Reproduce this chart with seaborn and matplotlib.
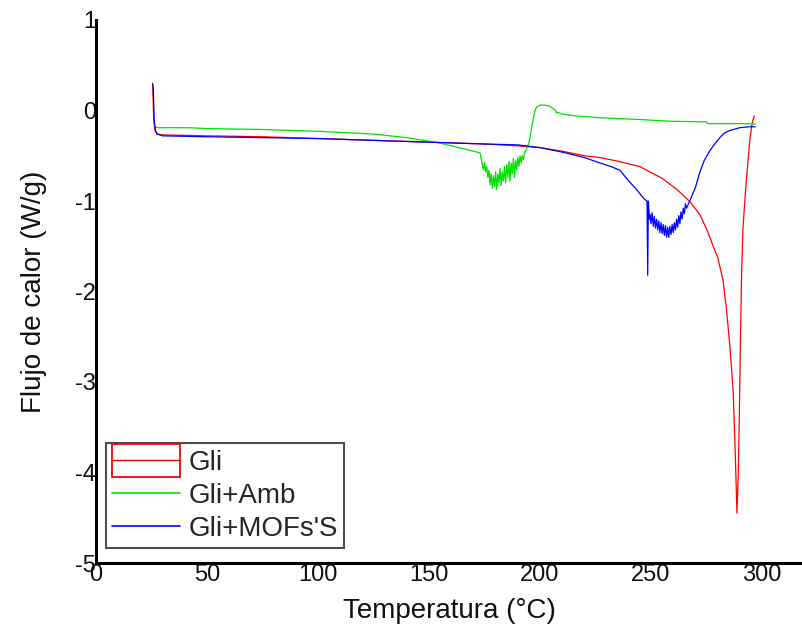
import matplotlib
matplotlib.use("Agg")
import matplotlib.pyplot as plt
import seaborn as sns
import pandas as pd
from matplotlib.patches import Rectangle
from matplotlib.lines import Line2D

# ---------------- data ----------------
gli_T = [25.5, 25.7, 26.0, 26.5, 27.5, 30, 50, 75, 100, 125, 150, 175, 190, 200,
         210, 220, 227, 235, 245, 255, 262, 267.6, 272, 275.2, 278, 280, 282.4,
         284, 285.5, 287, 287.7, 288.3, 288.7, 289.3, 289.7, 290.0, 290.3, 290.8,
         291.4, 292.6, 293.7, 294.6, 295.5, 296.0, 296.5]
gli_Q = [0.28, 0.15, -0.10, -0.22, -0.26, -0.27, -0.28, -0.29, -0.31, -0.33, -0.35,
         -0.37, -0.39, -0.41, -0.45, -0.50, -0.52, -0.56, -0.62, -0.75, -0.88, -1.01,
         -1.15, -1.32, -1.50, -1.62, -1.87, -2.20, -2.60, -3.10, -3.60, -4.10, -4.45,
         -4.00, -3.50, -3.00, -2.50, -1.80, -1.30, -0.88, -0.55, -0.30, -0.15, -0.10,
         -0.06]

amb_T = [26.6, 27.5, 30, 42, 50, 75, 100, 125, 140, 150, 155, 165, 170, 173,
         174.0, 174.5, 175.0, 175.5, 176.0, 176.5, 177.0, 177.5, 178.0, 178.5,
         179.0, 179.5, 180.0, 180.5, 181.0, 181.5, 182.0, 182.5, 183.0, 183.5,
         184.0, 184.5, 185.0, 185.5, 186.0, 186.5, 187.0, 187.5, 188.0, 188.5,
         189.0, 189.5, 190.0, 190.5, 191.0, 191.5, 192.0, 192.5, 193.0,
         194, 195, 195.5, 196.5, 197.5, 198.5, 200, 202, 204, 206, 207, 207.5,
         208, 210, 216, 227, 245, 260, 275, 275.5, 290, 297]
amb_Q = [-0.18, -0.19, -0.19, -0.19, -0.20, -0.21, -0.23, -0.26, -0.30, -0.34,
         -0.36, -0.42, -0.45, -0.47,
         -0.60, -0.66, -0.57, -0.68, -0.62, -0.74, -0.66, -0.82, -0.70, -0.86,
         -0.72, -0.84, -0.68, -0.87, -0.70, -0.80, -0.64, -0.83, -0.68, -0.78,
         -0.62, -0.80, -0.60, -0.74, -0.56, -0.78, -0.58, -0.70, -0.53, -0.74,
         -0.55, -0.66, -0.52, -0.62, -0.50, -0.58, -0.50, -0.54, -0.47,
         -0.42, -0.36, -0.30, -0.15, -0.02, 0.04, 0.06, 0.06, 0.05, 0.02, 0.00,
         -0.03, -0.02, -0.04, -0.06, -0.08, -0.10, -0.12, -0.125, -0.145, -0.145,
         -0.15]

mof_T = [25.5, 25.8, 26.2, 26.8, 27.5, 30, 50, 75, 100, 125, 150, 175, 190, 200,
         210, 220, 227, 232, 236, 240, 243, 245, 247, 248.2, 248.5, 248.8, 249.3,
         249.5, 250.0, 250.5, 251.0, 251.5, 252.0, 252.5, 253.0, 253.5, 254.0,
         254.5, 255.0, 255.5, 256.0, 256.5, 257.0, 257.5, 258.0, 258.5, 259.0,
         259.5, 260.0, 260.5, 261.0, 261.5, 262.0, 262.5, 263.0, 263.5, 264.0,
         264.5, 265.0, 265.5, 266.0,
         267.6, 270, 272, 274, 276.6, 279, 281, 283, 285.6, 290, 294, 297]
mof_Q = [0.30, 0.25, -0.10, -0.22, -0.26, -0.28, -0.29, -0.30, -0.31, -0.33, -0.35,
         -0.37, -0.38, -0.41, -0.46, -0.52, -0.58, -0.62, -0.66, -0.78, -0.86,
         -0.92, -0.98, -1.00, -1.82, -1.00, -1.20,
         -1.15, -1.25, -1.13, -1.28, -1.17, -1.30, -1.20, -1.32, -1.22, -1.35,
         -1.24, -1.36, -1.26, -1.38, -1.27, -1.40, -1.29, -1.40, -1.28, -1.37,
         -1.26, -1.35, -1.24, -1.32, -1.20, -1.29, -1.16, -1.25, -1.12, -1.20,
         -1.08, -1.14, -1.03, -1.08,
         -0.99, -0.85, -0.68, -0.55, -0.44, -0.36, -0.30, -0.25, -0.22, -0.19,
         -0.18, -0.18]

labels = ["Gli", "Gli+Amb", "Gli+MOFs'S"]
colors = ["#ff0000", "#00e000", "#0000ff"]
x_label = "Temperatura (°C)"
y_label = "Flujo de calor (W/g)"
x_ticks = [0, 50, 100, 150, 200, 250, 300]
y_ticks = [1, 0, -1, -2, -3, -4, -5]

# ---------------- build table ----------------
frames = []
for name, T, Q in zip(labels, [gli_T, amb_T, mof_T], [gli_Q, amb_Q, mof_Q]):
    frames.append(pd.DataFrame({"T": T, "Q": Q, "serie": name}))
df = pd.concat(frames, ignore_index=True)

sns.set_theme(style="white")
plt.rcParams["font.family"] = ["Liberation Sans", "DejaVu Sans"]

fig = plt.figure(figsize=(8.02, 6.26), dpi=100)
ax = fig.add_axes([96 / 802, 63 / 626, 706 / 802, 543 / 626])

sns.lineplot(data=df, x="T", y="Q", hue="serie", palette=dict(zip(labels, colors)),
             estimator=None, sort=False, linewidth=0.9, ax=ax, legend=False)

ax.set_xlim(0, 318)
ax.set_ylim(-5, 1)
ax.set_xticks(x_ticks)
ax.set_yticks(y_ticks)
ax.set_xticklabels([str(v) for v in x_ticks])
ax.set_yticklabels([str(v) for v in y_ticks])
ax.tick_params(axis="both", length=0, labelsize=17, colors="#111111")
ax.tick_params(axis="y", pad=0)
ax.tick_params(axis="x", pad=1)

for s in ["top", "right"]:
    ax.spines[s].set_visible(False)
for s in ["left", "bottom"]:
    ax.spines[s].set_color("black")
    ax.spines[s].set_linewidth(2.2)

ax.set_xlabel(x_label, fontsize=20, labelpad=8, color="#111111")
ax.set_ylabel(y_label, fontsize=20, labelpad=20, color="#111111")


class BoxLineHandler:
    """Legend key drawn as a tall outlined box with a line through its middle."""

    def __init__(self, color):
        self.color = color

    def legend_artist(self, legend, orig_handle, fontsize, handlebox):
        x0, y0 = handlebox.xdescent, handlebox.ydescent
        w, h = handlebox.width, handlebox.height
        rect = Rectangle((-x0, -y0 - 0.28 * h), w, 1.56 * h, facecolor="none",
                         edgecolor=self.color, linewidth=1.3,
                         transform=handlebox.get_transform())
        line = Line2D([-x0, -x0 + w], [-y0 + h / 2, -y0 + h / 2], color=self.color,
                      linewidth=1.0, transform=handlebox.get_transform())
        handlebox.add_artist(rect)
        handlebox.add_artist(line)
        return rect


gli_handle = Line2D([], [], color=colors[0])
handles = [
    gli_handle,
    Line2D([], [], color=colors[1], linewidth=1.2),
    Line2D([], [], color=colors[2], linewidth=1.2),
]
leg = ax.legend(handles, labels, loc="lower left", bbox_to_anchor=(0.014, 0.028),
                borderaxespad=0, fontsize=20, frameon=True, fancybox=False,
                handlelength=2.45, handleheight=0.8, handletextpad=0.3,
                labelspacing=0.24, borderpad=0.22,
                handler_map={gli_handle: BoxLineHandler(colors[0])})
leg.get_frame().set_edgecolor("#222222")
leg.get_frame().set_linewidth(1.5)

fig.savefig("out.png", dpi=100)
